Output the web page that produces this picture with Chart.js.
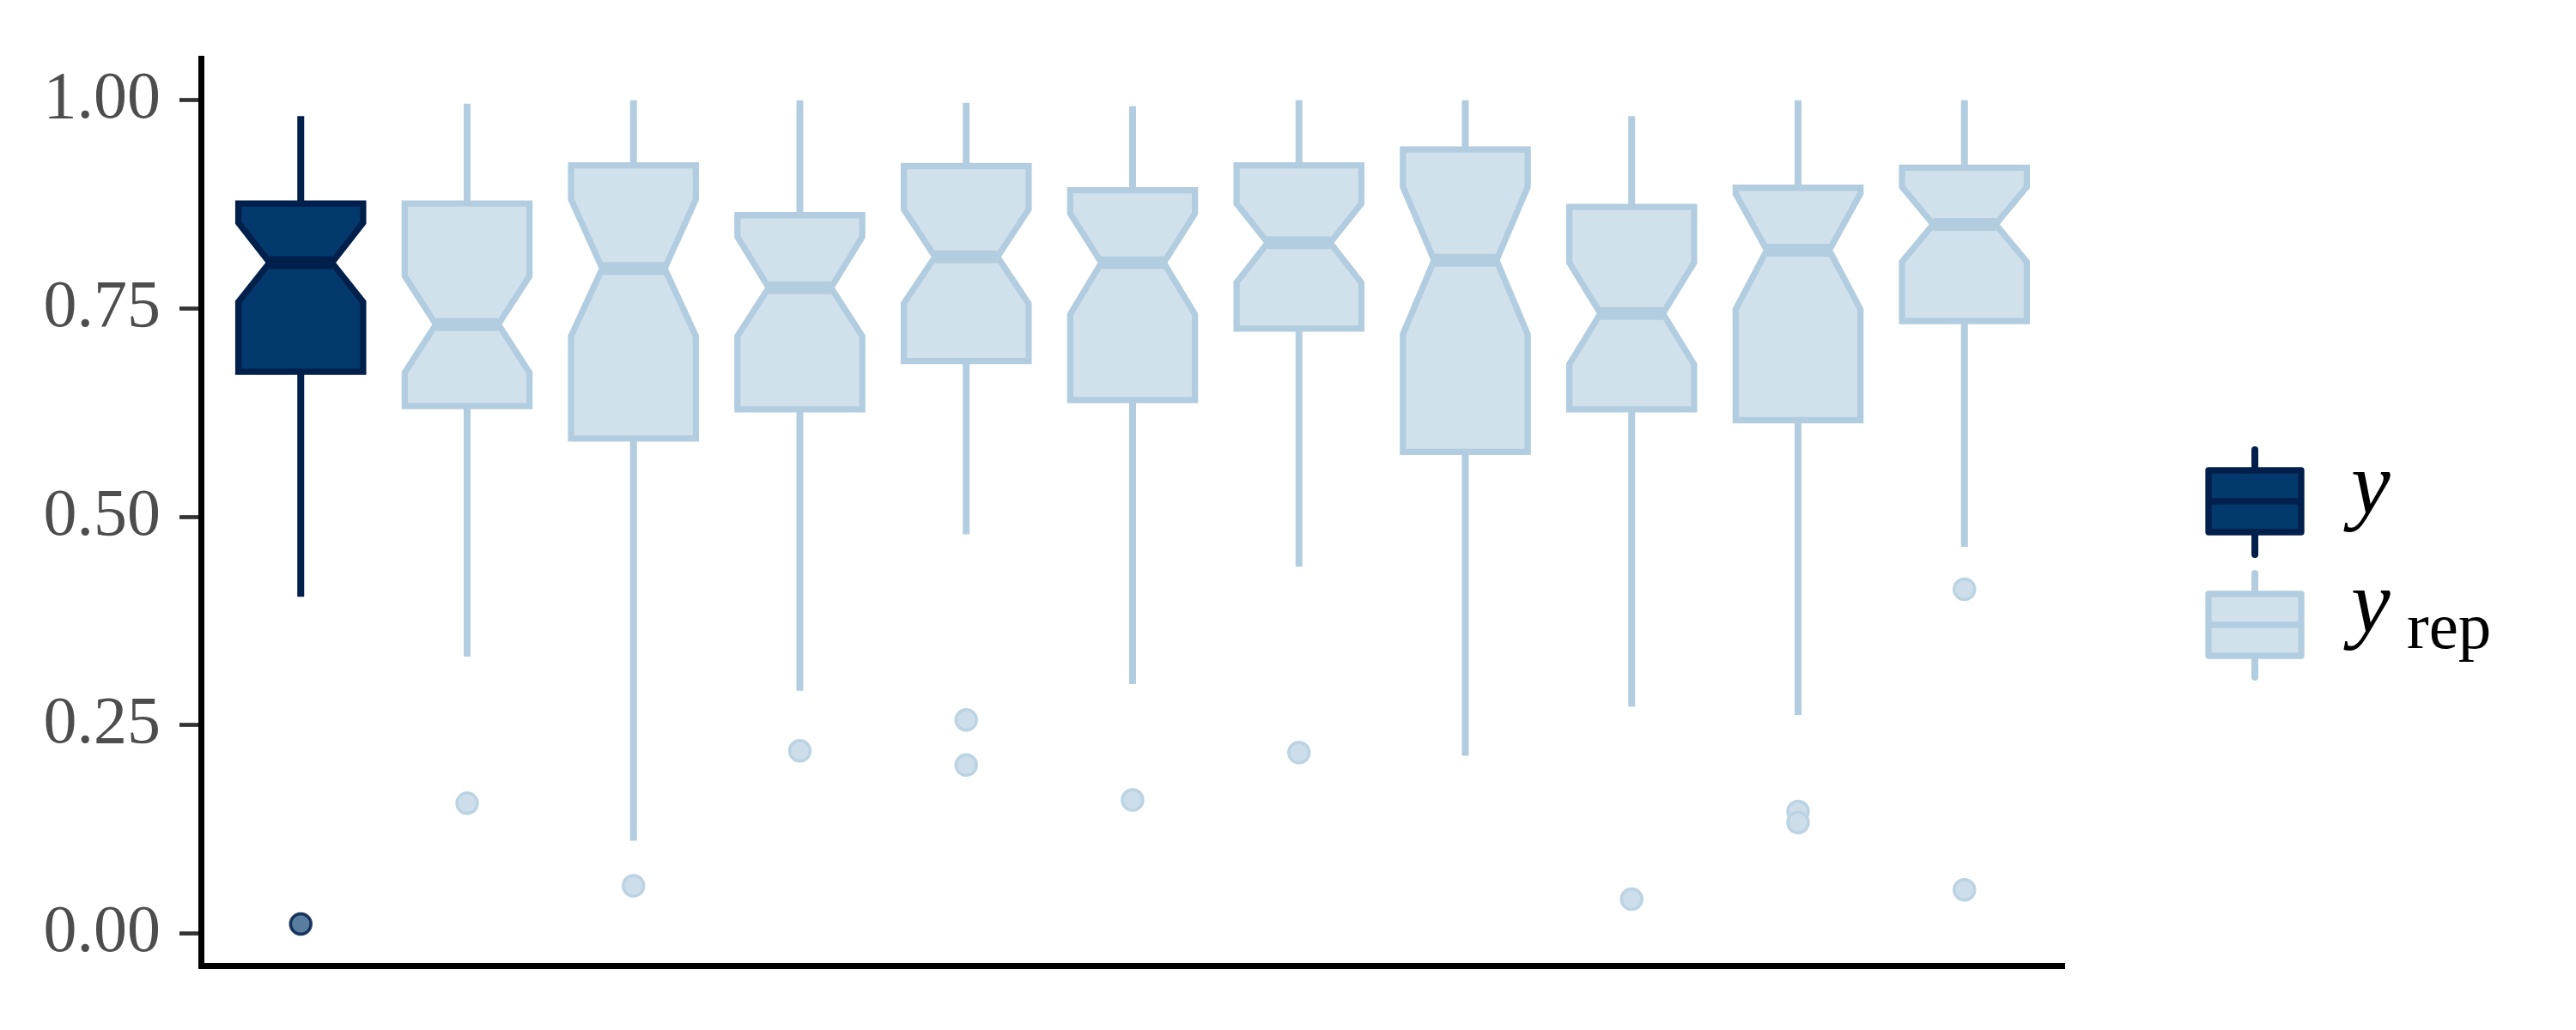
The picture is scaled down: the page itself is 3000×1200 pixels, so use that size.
<!DOCTYPE html>
<html>
<head>
<meta charset="utf-8">
<script src="https://cdn.jsdelivr.net/npm/chart.js@4.4.1/dist/chart.umd.min.js"></script>
<style>
  body { margin: 0; background: #ffffff; }
  #wrap { width: 3000px; height: 1200px; }
</style>
</head>
<body>
<div id="wrap"><canvas id="ppc_chart" width="3000" height="1200"></canvas></div>
<script>

//boxplot stats, first box is y, the rest are yrep draws

let box_labels = ['y','yrep1','yrep2','yrep3','yrep4','yrep5','yrep6','yrep7','yrep8','yrep9','yrep10'];

let box_whiskerLow  = [0.404, 0.332, 0.111, 0.291, 0.479, 0.299, 0.440, 0.213, 0.272, 0.262, 0.464];
let box_q1          = [0.674, 0.633, 0.594, 0.629, 0.687, 0.640, 0.726, 0.578, 0.629, 0.616, 0.735];
let box_notchLow    = [0.758, 0.673, 0.717, 0.717, 0.756, 0.743, 0.781, 0.719, 0.683, 0.749, 0.806];
let box_median      = [0.805, 0.731, 0.798, 0.775, 0.812, 0.805, 0.829, 0.808, 0.744, 0.820, 0.851];
let box_notchHigh   = [0.853, 0.789, 0.881, 0.836, 0.869, 0.864, 0.876, 0.896, 0.805, 0.888, 0.896];
let box_q3          = [0.876, 0.876, 0.922, 0.862, 0.921, 0.892, 0.922, 0.941, 0.872, 0.895, 0.919];
let box_whiskerHigh = [0.981, 0.996, 1.000, 1.000, 0.997, 0.993, 1.000, 1.000, 0.981, 1.000, 1.000];

// outliers: which box (1-based) and value
let outlier_box   = [1, 2, 3, 4, 5, 5, 6, 7, 9, 10, 10, 11, 11];
let outlier_value = [0.011, 0.156, 0.057, 0.219, 0.256, 0.202, 0.160, 0.217, 0.041, 0.146, 0.133, 0.413, 0.052];

let y_ticks = [0, 0.25, 0.5, 0.75, 1.0];

const dark = '#03396c';
const darkLine = '#011f4b';
const light = '#d1e1ec';
const lightLine = '#b3cde0';
const boxWidth = 0.75;

const notchBoxes = {
    id: 'notchBoxes',
    beforeDatasetsDraw(chart) {
        const ctx = chart.ctx;
        const x = chart.scales.x;
        const y = chart.scales.y;
        const half = (x.getPixelForValue(2) - x.getPixelForValue(1)) * boxWidth / 2;
        const notch = half * 0.5;
        ctx.save();
        ctx.lineJoin = 'miter';
        ctx.lineCap = 'butt';
        box_labels.forEach((lab, i) => {
            const cx = x.getPixelForValue(i + 1);
            const fill = i === 0 ? dark : light;
            const line = i === 0 ? darkLine : lightLine;
            const wl = y.getPixelForValue(box_whiskerLow[i]);
            const q1 = y.getPixelForValue(box_q1[i]);
            const nl = y.getPixelForValue(box_notchLow[i]);
            const md = y.getPixelForValue(box_median[i]);
            const nh = y.getPixelForValue(box_notchHigh[i]);
            const q3 = y.getPixelForValue(box_q3[i]);
            const wh = y.getPixelForValue(box_whiskerHigh[i]);

            // whiskers
            ctx.strokeStyle = line;
            ctx.lineWidth = 8;
            ctx.beginPath();
            ctx.moveTo(cx, q3); ctx.lineTo(cx, wh);
            ctx.moveTo(cx, q1); ctx.lineTo(cx, wl);
            ctx.stroke();

            // notched box
            ctx.lineWidth = 7.3;
            ctx.beginPath();
            ctx.moveTo(cx - half, q3);
            ctx.lineTo(cx + half, q3);
            ctx.lineTo(cx + half, nh);
            ctx.lineTo(cx + notch, md);
            ctx.lineTo(cx + half, nl);
            ctx.lineTo(cx + half, q1);
            ctx.lineTo(cx - half, q1);
            ctx.lineTo(cx - half, nl);
            ctx.lineTo(cx - notch, md);
            ctx.lineTo(cx - half, nh);
            ctx.closePath();
            ctx.fillStyle = fill;
            ctx.fill();
            ctx.stroke();

            // median
            ctx.lineWidth = 15;
            ctx.beginPath();
            ctx.moveTo(cx - notch, md);
            ctx.lineTo(cx + notch, md);
            ctx.stroke();
        });
        ctx.restore();
    },
    afterDraw(chart) {
        // legend with boxplot keys
        const ctx = chart.ctx;
        const left = chart.chartArea.right + 168;
        const w = 108;
        const keys = [
            {top: 548, bottom: 620, wTop: 524, wBottom: 646, fill: dark, line: darkLine},
            {top: 692, bottom: 764, wTop: 668, wBottom: 789, fill: light, line: lightLine}
        ];
        ctx.save();
        keys.forEach(k => {
            const cx = left + w / 2;
            const mid = (k.top + k.bottom) / 2;
            ctx.strokeStyle = k.line;
            ctx.lineCap = 'round';
            ctx.lineWidth = 8;
            ctx.beginPath();
            ctx.moveTo(cx, k.wTop); ctx.lineTo(cx, k.top);
            ctx.moveTo(cx, k.bottom); ctx.lineTo(cx, k.wBottom);
            ctx.stroke();
            ctx.lineCap = 'butt';
            ctx.lineJoin = 'round';
            ctx.lineWidth = 7.3;
            ctx.fillStyle = k.fill;
            ctx.fillRect(left, k.top, w, k.bottom - k.top);
            ctx.strokeRect(left, k.top, w, k.bottom - k.top);
            ctx.beginPath();
            ctx.moveTo(left, mid); ctx.lineTo(left + w, mid);
            ctx.stroke();
        });
        ctx.fillStyle = '#000000';
        ctx.textAlign = 'left';
        ctx.textBaseline = 'alphabetic';
        ctx.font = 'italic 103px "Liberation Serif"';
        ctx.fillText('y', left + 166, 598);
        ctx.fillText('y', left + 166, 736);
        ctx.font = '77px "Liberation Serif"';
        ctx.fillText('rep', left + 231, 755);
        ctx.restore();
    }
};

const outlier_data = outlier_box.map((b, i) => ({x: b, y: outlier_value[i]}));

const ppc_data = {
    datasets: [{
        type: 'scatter',
        data: outlier_data,
        pointRadius: 12,
        pointBorderWidth: 3.5,
        pointBackgroundColor: outlier_box.map(b => b === 1 ? 'rgba(3,57,108,0.66)' : '#cddeea'),
        pointBorderColor: outlier_box.map(b => b === 1 ? 'rgba(1,31,75,0.85)' : '#bcd3e4')
    }]
};

const ppc_config = {
    type: 'scatter',
    data: ppc_data,
    plugins: [notchBoxes],
    options: {
        responsive: false,
        animation: false,
        devicePixelRatio: 1,
        layout: {
            padding: {top: 49, right: 596, bottom: 75, left: 0}
        },
        plugins: {
            legend: {display: false},
            tooltip: {enabled: false}
        },
        scales: {
            x: {
                type: 'linear',
                min: 0.4,
                max: 11.6,
                ticks: {display: false},
                grid: {display: false},
                border: {display: true, color: '#000000', width: 7},
                afterFit(s) { s.height = 0; }
            },
            y: {
                type: 'linear',
                min: -0.0389,
                max: 1.0495,
                afterBuildTicks(s) { s.ticks = y_ticks.map(v => ({value: v})); },
                ticks: {
                    padding: 22,
                    color: '#4d4d4d',
                    font: {family: 'Liberation Serif', size: 78},
                    callback: v => v.toFixed(2)
                },
                grid: {
                    drawOnChartArea: false,
                    drawTicks: true,
                    tickLength: 25,
                    tickWidth: 4.7,
                    tickColor: '#333333'
                },
                border: {display: true, color: '#000000', width: 7},
                afterFit(s) { s.width = 234; }
            }
        }
    }
};

const ppc_chart = new Chart(
    document.getElementById('ppc_chart'),
    ppc_config
);

</script>
</body>
</html>
